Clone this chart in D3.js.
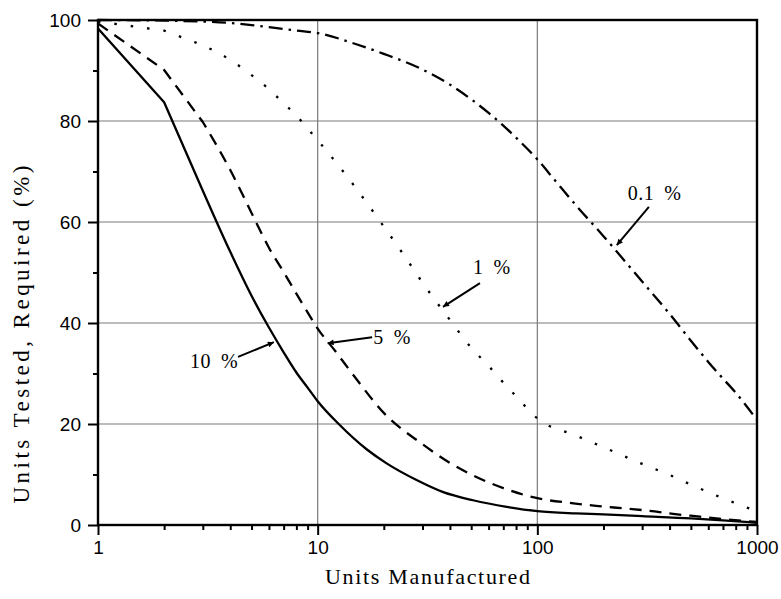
<!DOCTYPE html>
<html>
<head>
<meta charset="utf-8">
<script src="https://cdn.jsdelivr.net/npm/d3@7"></script>
<style>
  body { margin: 0; background: #fff; }
  svg { display: block; }
</style>
</head>
<body>
<svg width="781" height="599"></svg>
<script>
"use strict";

// defect rates, one curve each
const rateNames = ["10 %", "5 %", "1 %", "0.1 %"];

// units manufactured (x) and % tested (y)
const solidX = [1, 2, 3, 4, 5, 6, 7, 8, 9, 10, 12.6, 16.7, 20.6, 28.2, 37.3, 51, 72.5, 100, 150, 200, 300, 500, 700, 1000];
const solidY = [98.3, 83.7, 66.2, 54.1, 45.4, 39.1, 34.2, 30.2, 27.2, 24.5, 19.8, 15.0, 12.2, 8.9, 6.5, 4.9, 3.6, 2.75, 2.3, 2.1, 1.75, 1.3, 0.9, 0.45];

const dashX = [1, 2, 3, 4, 5, 6, 7, 8, 9, 10, 12, 15, 20, 30, 40, 50, 70, 100, 146, 185, 245, 325, 415, 550, 727, 1000];
const dashY = [99.3, 90.1, 79.8, 70.3, 61.8, 54.9, 50.1, 45.8, 42.1, 38.9, 34.5, 28.9, 22.2, 16.0, 12.3, 10.0, 7.3, 5.3, 4.3, 3.8, 3.3, 2.8, 2.2, 1.65, 1.1, 0.6];

const dotX = [1, 2, 3, 4, 5, 6, 7, 8, 9, 10, 15, 20, 25, 30, 40, 50, 60, 70, 80, 100, 150, 200, 300, 400, 500, 600, 700, 800, 1000];
const dotY = [99.7, 97.9, 95, 92.1, 89.1, 86.3, 83.5, 81.1, 78.5, 76.2, 66.6, 59.1, 53.1, 48, 40.6, 35.1, 31.5, 28.2, 25.5, 21.1, 17.7, 15.4, 12.1, 9.9, 8, 6.5, 5.3, 4.3, 2.7];

const dashDotX = [1, 2, 3, 4, 5, 6, 8, 10, 15, 20, 30, 40, 50, 60, 70, 80, 100, 120, 150, 200, 300, 400, 500, 600, 700, 800, 1000];
const dashDotY = [100, 99.9, 99.7, 99.4, 99, 98.6, 97.9, 97.4, 95.2, 93.3, 90.2, 87.2, 84.3, 81.6, 79.1, 76.7, 72.4, 68.3, 63.3, 57.2, 48.2, 41.8, 36.5, 32.3, 29, 26.2, 20.8];

// label anchors and arrows, in data units
const labelX = [2.62, 17.9, 50.9, 258];
const labelY = [31.1, 35.8, 49.7, 64.4];
const arrowFromX = [4.34, 17.7, 54.8, 322];
const arrowFromY = [33.3, 37.2, 47.9, 63.0];
const arrowToX = [6.32, 11.1, 37.2, 230];
const arrowToY = [36.2, 36.0, 43.2, 55.4];

const xTicks = [1, 10, 100, 1000];
const yTicks = [0, 20, 40, 60, 80, 100];

/////////////////////////////////////////////
// setup
/////////////////////////////////////////////
const margin = { top: 20, right: 24, bottom: 74, left: 98 };
const width = 781;
const height = 599;

const svg = d3.select("svg");

const x = d3.scaleLog().domain([1, 1000]).range([margin.left, width - margin.right]);
const y = d3.scaleLinear().domain([0, 100]).range([height - margin.bottom, margin.top]);

const minorX = [];
for (let p = 1; p < 1000; p *= 10) {
  for (let k = 2; k <= 9; k++) minorX.push(k * p);
}
const minorY = [10, 30, 50, 70, 90];

/////////////////////////////////////////////
// grid
/////////////////////////////////////////////
const grid = svg.append("g").attr("stroke", "#7a7a7a").attr("stroke-width", 1.2);
grid.selectAll(".hg")
  .data(yTicks.filter((d) => d > 0 && d < 100))
  .enter().append("line")
  .attr("x1", x(1)).attr("x2", x(1000))
  .attr("y1", (d) => y(d)).attr("y2", (d) => y(d));
grid.selectAll(".vg")
  .data([10, 100])
  .enter().append("line")
  .attr("y1", y(0)).attr("y2", y(100))
  .attr("x1", (d) => x(d)).attr("x2", (d) => x(d));

/////////////////////////////////////////////
// curves: straight between the first few units, smooth after
/////////////////////////////////////////////
const straight = d3.line().x((d) => x(d[0])).y((d) => y(d[1]));
const smooth = d3.line().x((d) => x(d[0])).y((d) => y(d[1])).curve(d3.curveMonotoneX);

function curvePath(xs, ys) {
  const pts = xs.map((v, i) => [v, ys[i]]);
  const head = pts.filter((p) => p[0] <= 3);
  const tail = pts.filter((p) => p[0] >= 3);
  // glue the two pieces into one subpath so the dash pattern runs on
  return straight(head) + smooth(tail).replace(/^M[^A-Za-z]*/, "");
}

const series = [
  { xs: solidX, ys: solidY, dash: null },
  { xs: dashX, ys: dashY, dash: "12,8" },
  { xs: dotX, ys: dotY, dash: "2.5,14" },
  { xs: dashDotX, ys: dashDotY, dash: "14,6,2.5,6" }
];

svg.append("g")
  .selectAll("path")
  .data(series)
  .enter().append("path")
  .attr("fill", "none")
  .attr("stroke", "#000")
  .attr("stroke-width", 2.3)
  .attr("stroke-linejoin", "round")
  .attr("stroke-dasharray", (d) => d.dash)
  .attr("d", (d) => curvePath(d.xs, d.ys));

/////////////////////////////////////////////
// axes and frame
/////////////////////////////////////////////
const bottom = svg.append("g")
  .attr("transform", `translate(0,${y(0)})`)
  .call(d3.axisBottom(x).tickValues(xTicks.concat(minorX)).tickSize(5).tickFormat((d) => xTicks.includes(d) ? d : ""));
bottom.selectAll(".tick line")
  .attr("stroke-width", 2)
  .attr("y2", (d) => xTicks.includes(d) ? 10 : 5);
bottom.selectAll(".tick text")
  .attr("y", 16)
  .style("font-family", "'Liberation Sans', Arial, sans-serif")
  .style("font-size", "19px")
  .attr("fill", "#000");

const left = svg.append("g")
  .attr("transform", `translate(${x(1)},0)`)
  .call(d3.axisLeft(y).tickValues(yTicks.concat(minorY)).tickSize(5).tickFormat((d) => yTicks.includes(d) ? d : ""));
left.selectAll(".tick line")
  .attr("stroke-width", 2)
  .attr("x2", (d) => yTicks.includes(d) ? -10 : -5);
left.selectAll(".tick text")
  .attr("x", -17)
  .style("font-family", "'Liberation Sans', Arial, sans-serif")
  .style("font-size", "19px")
  .attr("fill", "#000");

svg.selectAll(".domain").remove();

svg.append("rect")
  .attr("x", x(1)).attr("y", y(100))
  .attr("width", x(1000) - x(1))
  .attr("height", y(0) - y(100))
  .attr("fill", "none")
  .attr("stroke", "#000")
  .attr("stroke-width", 2.4);

/////////////////////////////////////////////
// titles
/////////////////////////////////////////////
svg.append("text")
  .attr("x", (x(1) + x(1000)) / 2)
  .attr("y", 584)
  .attr("text-anchor", "middle")
  .attr("textLength", 205)
  .attr("lengthAdjust", "spacing")
  .style("font-family", "'Liberation Serif', 'Times New Roman', serif")
  .style("font-size", "22px")
  .text("Units Manufactured");

svg.append("text")
  .attr("transform", `translate(29,${(y(0) + y(100)) / 2 + 62}) rotate(-90)`)
  .attr("text-anchor", "middle")
  .attr("textLength", 338)
  .attr("lengthAdjust", "spacing")
  .style("font-family", "'Liberation Serif', 'Times New Roman', serif")
  .style("font-size", "23px")
  .text("Units Tested, Required (%)");

/////////////////////////////////////////////
// curve labels with arrows
/////////////////////////////////////////////
svg.append("defs").append("marker")
  .attr("id", "head")
  .attr("viewBox", "0 0 10 10")
  .attr("refX", 10).attr("refY", 5)
  .attr("markerWidth", 12).attr("markerHeight", 6)
  .attr("markerUnits", "userSpaceOnUse")
  .attr("orient", "auto")
  .append("path")
  .attr("d", "M0,0L10,5L0,10z")
  .attr("fill", "#000");

const notes = svg.append("g");
notes.selectAll("line")
  .data(rateNames)
  .enter().append("line")
  .attr("x1", (d, i) => x(arrowFromX[i]))
  .attr("y1", (d, i) => y(arrowFromY[i]))
  .attr("x2", (d, i) => x(arrowToX[i]))
  .attr("y2", (d, i) => y(arrowToY[i]))
  .attr("stroke", "#000")
  .attr("stroke-width", 2)
  .attr("marker-end", "url(#head)");

notes.selectAll("text")
  .data(rateNames)
  .enter().append("text")
  .attr("x", (d, i) => x(labelX[i]))
  .attr("y", (d, i) => y(labelY[i]))
  .style("font-family", "'Liberation Serif', 'Times New Roman', serif")
  .style("font-size", "20px")
  .style("letter-spacing", "0.5px")
  .style("word-spacing", "4.5px")
  .text((d) => d);
</script>
</body>
</html>
